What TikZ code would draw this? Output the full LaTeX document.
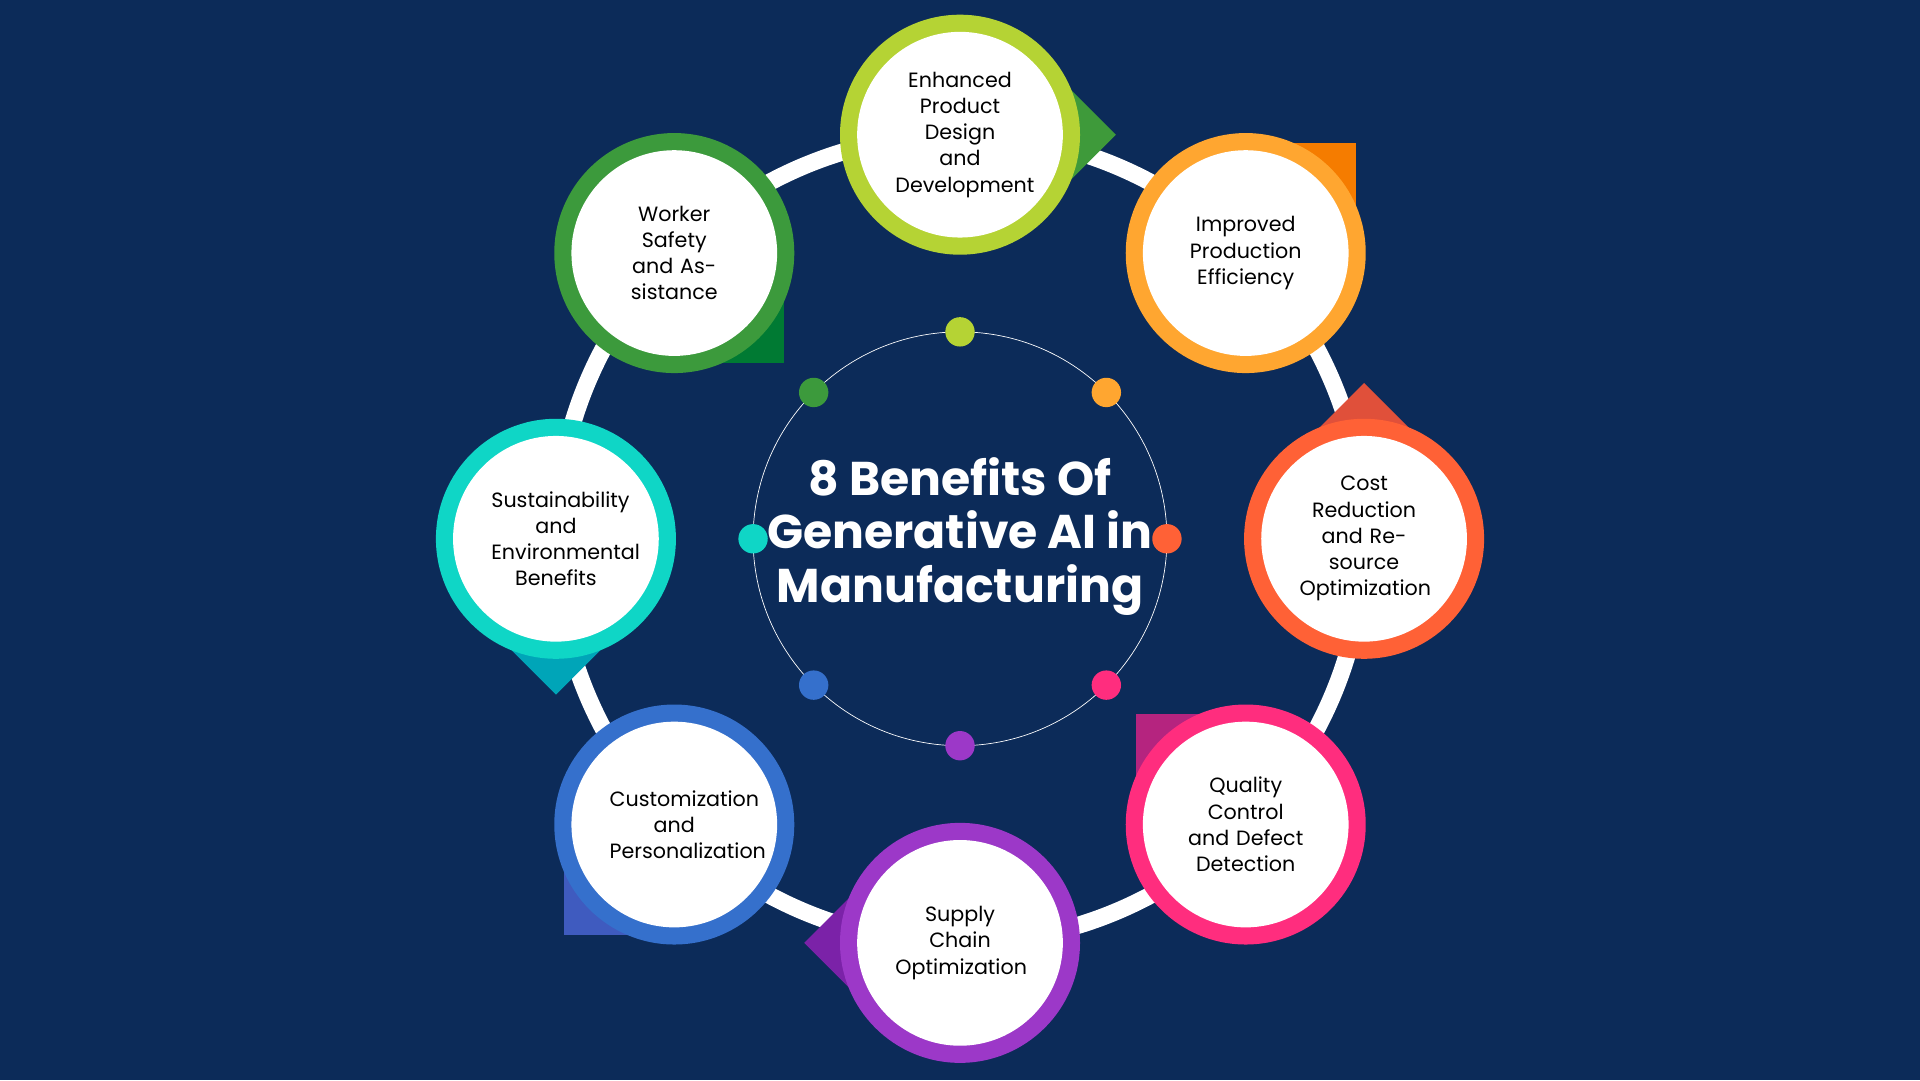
\documentclass[tikz,border=0pt]{standalone}
\usepackage{fontspec}
\usetikzlibrary{calc}
\setmainfont{Poppins}
\begin{document}
\begin{tikzpicture}[x=0.05cm,y=-0.05cm]
\definecolor{bg}{HTML}{0C2B59}
\tikzset{lbl/.style={font=\fontsize{24}{30.5}\selectfont, text=black, align=center, text width=150}}
\fill[bg] (0,0) rectangle (1568,882);
\useasboundingbox (0,0) rectangle (1568,882);
\draw[white, line width=14*1.42pt] (784,440) circle (330);
\draw[white, line width=0.8pt] (784,440) circle (169);
\node[font=\fontsize{55}{62}\selectfont\bfseries, text=white, align=center] (title) at (784,438) {8 Benefits Of\\Generative AI in\\Manufacturing};
\foreach \ang/\mc/\pc/\nm/\txt in {
 90/B5D334/3E9A3A/a/{Enhanced\\Product Design\\and\\Development},
 45/FFA630/F57C00/b/{Improved\\Production\\Efficiency},
 0/FF6136/E0503A/c/{Cost Reduction\\and Resource\\Optimization},
 -45/FF2D7E/B5247F/d/{Quality Control\\and Defect\\Detection},
 -90/9C38C8/7B22A8/e/{Supply Chain\\Optimization},
 -135/3570CC/3F5BBF/f/{Customization\\and\\Personalization},
 180/0FD6C6/00A5B8/g/{Sustainability\\and\\Environmental\\Benefits},
 135/3C9A3C/007A33/h/{Worker Safety\\and Assistance}}{
  \definecolor{mc}{HTML}{\mc}\definecolor{pc}{HTML}{\pc}
  \coordinate (\nm c) at ($(784,440)+({330*cos(\ang)},{-330*sin(\ang)})$);
  \begin{scope}[shift={(\nm c)}, rotate={-\ang+180-45}]
   \fill[pc] (0,0) rectangle (90,90);
  \end{scope}
  \fill[mc] (\nm c) circle (98);
  \fill[white] (\nm c) circle (84);
  \node[lbl] (\nm t) at (\nm c) {\txt};
  \fill[mc] ($(784,440)+({169*cos(\ang)},{-169*sin(\ang)})$) circle (12);
}
\end{tikzpicture}
\end{document}
